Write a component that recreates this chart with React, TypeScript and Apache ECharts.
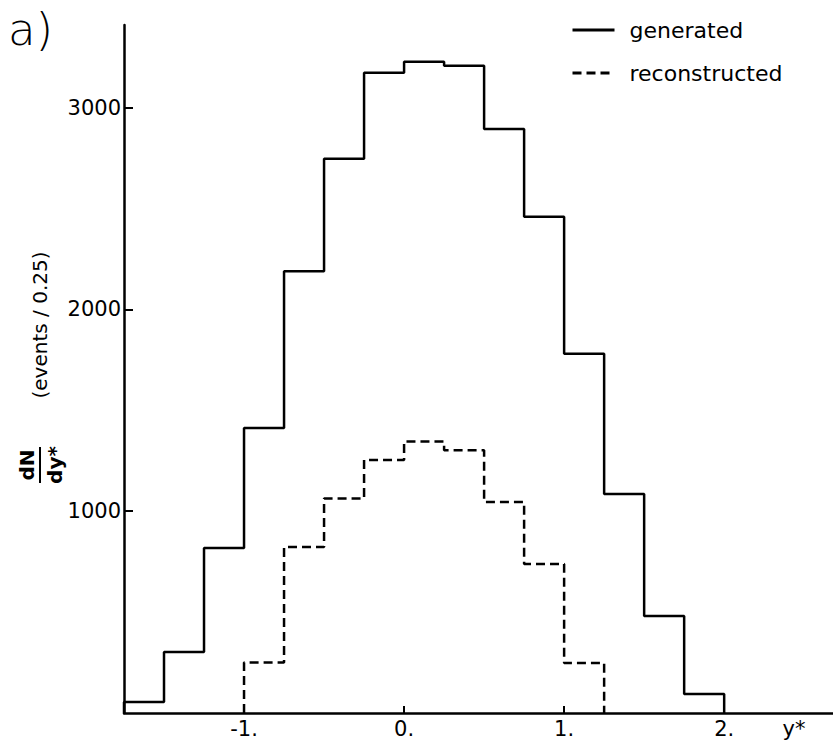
import React, { useEffect, useRef } from "react";
import * as echarts from "echarts";

// Histogram bin edges (y*) and counts per 0.25 bin
const generatedEdges = [-1.75, -1.5, -1.25, -1.0, -0.75, -0.5, -0.25, 0.0, 0.25, 0.5, 0.75, 1.0, 1.25, 1.5, 1.75, 2.0];
const generatedCounts = [55, 302, 818, 1413, 2190, 2747, 3173, 3228, 3208, 2895, 2459, 1780, 1086, 481, 94];

const reconstructedEdges = [-1.0, -0.75, -0.5, -0.25, 0.0, 0.25, 0.5, 0.75, 1.0, 1.25];
const reconstructedCounts = [250, 823, 1063, 1254, 1346, 1302, 1046, 739, 248];

const xTickValues = [-1, 0, 1, 2];
const yTickValues = [1000, 2000, 3000];

const seriesNames = ["generated", "reconstructed"];

const FONT = "DejaVu Sans";

function outline(edges: number[], counts: number[]) {
  const pts: number[][] = [[edges[0], 0]];
  counts.forEach((c, i) => {
    pts.push([edges[i], c]);
    pts.push([edges[i + 1], c]);
  });
  pts.push([edges[edges.length - 1], 0]);
  return pts;
}

export default function App() {
  const ref = useRef<HTMLDivElement>(null);
  useEffect(() => {
    if (!ref.current) return;
    const chart = echarts.init(ref.current, undefined, { renderer: "svg" });
    chart.setOption({
      animation: false,
      backgroundColor: "#fff",
      grid: { left: 124, right: 0, top: 25, bottom: 39, containLabel: false },
      legend: {
        data: seriesNames,
        orient: "vertical",
        left: 566,
        top: 14,
        itemWidth: 42,
        itemHeight: 14,
        itemGap: 21,
        itemStyle: { opacity: 0 },
        lineStyle: { width: 3 },
        textStyle: { fontSize: 22, fontFamily: FONT, color: "#000", padding: [0, 0, 0, 10] },
      },
      xAxis: {
        type: "value",
        min: -1.75,
        max: 2.68,
        splitLine: { show: false },
        axisLine: { onZero: false, lineStyle: { color: "#000", width: 2.5 } },
        axisTick: { inside: true, length: 7, customValues: xTickValues, lineStyle: { color: "#000", width: 2 } },
        axisLabel: {
          customValues: xTickValues,
          margin: 5,
          fontSize: 21,
          fontFamily: FONT,
          color: "#000",
          formatter: (v: number) => (v < 0 ? "-" : "") + Math.abs(v) + ".",
        },
      },
      yAxis: {
        type: "value",
        min: 0,
        max: 3410,
        splitLine: { show: false },
        axisLine: { show: true, onZero: false, lineStyle: { color: "#000", width: 2.5 } },
        axisTick: { show: true, inside: true, length: 9, customValues: yTickValues, lineStyle: { color: "#000", width: 2 } },
        axisLabel: {
          customValues: yTickValues,
          margin: 3,
          fontSize: 21,
          fontFamily: FONT,
          color: "#000",
          formatter: (v: number) => String(v),
        },
      },
      series: [
        {
          name: seriesNames[0],
          type: "line",
          data: outline(generatedEdges, generatedCounts),
          symbol: "none",
          lineStyle: { color: "#000", width: 2.5, type: "solid" },
          itemStyle: { color: "#000" },
        },
        {
          name: seriesNames[1],
          type: "line",
          data: outline(reconstructedEdges, reconstructedCounts),
          symbol: "none",
          lineStyle: { color: "#000", width: 2.5, type: [9, 5] },
          itemStyle: { color: "#000" },
        },
      ],
      graphic: [
        {
          type: "text",
          x: 8,
          y: 29,
          style: { text: "a)", fontSize: 45, fontFamily: FONT, fill: "#000", fontWeight: "lighter", verticalAlign: "middle" },
        },
        {
          type: "text",
          x: 40,
          y: 325,
          rotation: Math.PI / 2,
          style: {
            text: "(events / 0.25)",
            fontSize: 20,
            fontFamily: FONT,
            fill: "#000",
            align: "center",
            verticalAlign: "middle",
          },
        },
        {
          type: "text",
          x: 27,
          y: 465,
          rotation: Math.PI / 2,
          style: { text: "dN", fontSize: 20, fontFamily: FONT, fontWeight: "bold", fill: "#000", align: "center", verticalAlign: "middle" },
        },
        {
          type: "line",
          shape: { x1: 40, y1: 447, x2: 40, y2: 483 },
          style: { stroke: "#000", lineWidth: 2 },
        },
        {
          type: "text",
          x: 55,
          y: 465,
          rotation: Math.PI / 2,
          style: { text: "dy*", fontSize: 20, fontFamily: FONT, fontWeight: "bold", fill: "#000", align: "center", verticalAlign: "middle" },
        },
        {
          type: "text",
          x: 794,
          y: 729,
          style: { text: "y*", fontSize: 21, fontFamily: FONT, fill: "#000", align: "center", verticalAlign: "middle" },
        },
      ],
    });
    return () => chart.dispose();
  }, []);
  return <div ref={ref} style={{ position: "fixed", left: 0, top: 0, width: 833, height: 752 }} />;
}
